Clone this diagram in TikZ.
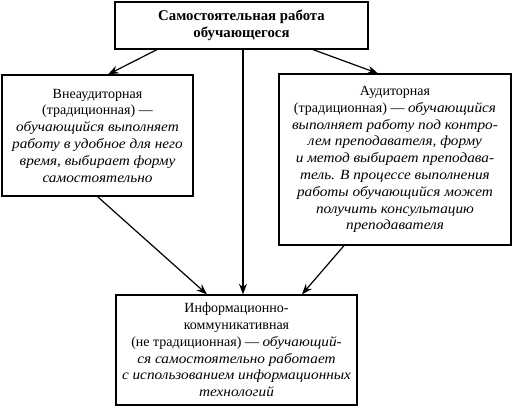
\documentclass[tikz,border=0pt]{standalone}
\usepackage{fontspec}
\setmainfont{Liberation Serif}[ItalicFeatures={FakeStretch=1.09}]
\usetikzlibrary{arrows.meta}
\begin{document}
\begin{tikzpicture}[x=0.75pt,y=-0.75pt,
  box/.style={draw,line width=0.9pt,align=center,inner sep=0pt,font=\fontsize{10.5}{12.6}\selectfont},
  arr/.style={line width=0.9pt,-{Stealth[length=8pt,width=6pt]}}]
\useasboundingbox (0,0) rectangle (515,408);
\node[box,minimum width=189.75pt,minimum height=35.25pt,font=\fontsize{11.1}{13}\selectfont\bfseries] (top) at (241.5,25.5)
  {Самостоятельная работа\\обучающегося};
\node[box,minimum width=143.25pt,minimum height=90.75pt] (left) at (97.5,135.5)
  {Внеаудиторная\\(традиционная) —\\\textit{обучающийся выполняет}\\\textit{работу в удобное для него}\\\textit{время, выбирает форму}\\\textit{самостоятельно}};
\node[box,minimum width=174pt,minimum height=128.25pt] (right) at (395,159.5)
  {Аудиторная\\(традиционная) — \textit{обучающийся}\\\textit{выполняет работу под контро-}\\\textit{лем преподавателя, форму}\\\textit{и метод выбирает преподава-}\\\textit{тель. В процессе выполнения}\\\textit{работы обучающийся может}\\\textit{получить консультацию}\\\textit{преподавателя}};
\node[box,minimum width=180.75pt,minimum height=82.5pt] (bot) at (236.5,350)
  {Информационно-\\коммуникативная\\(не традиционная) — \textit{обучающий-}\\\textit{ся самостоятельно работает}\\\textit{с использованием информационных}\\\textit{технологий}};
\draw[arr] ([xshift=-63.4pt]top.south) -- ([xshift=7.9pt]left.north);
\draw[arr] ([xshift=53.6pt]top.south) -- ([xshift=-12.75pt]right.north);
\draw[arr] ([xshift=1.1pt]top.south) -- ([xshift=1.1pt]top.south |- bot.north);
\draw[arr] (left.south) -- ([xshift=-22.1pt]bot.north);
\draw[arr] ([xshift=-38.25pt]right.south) -- ([xshift=49.1pt]bot.north);
\end{tikzpicture}
\end{document}
